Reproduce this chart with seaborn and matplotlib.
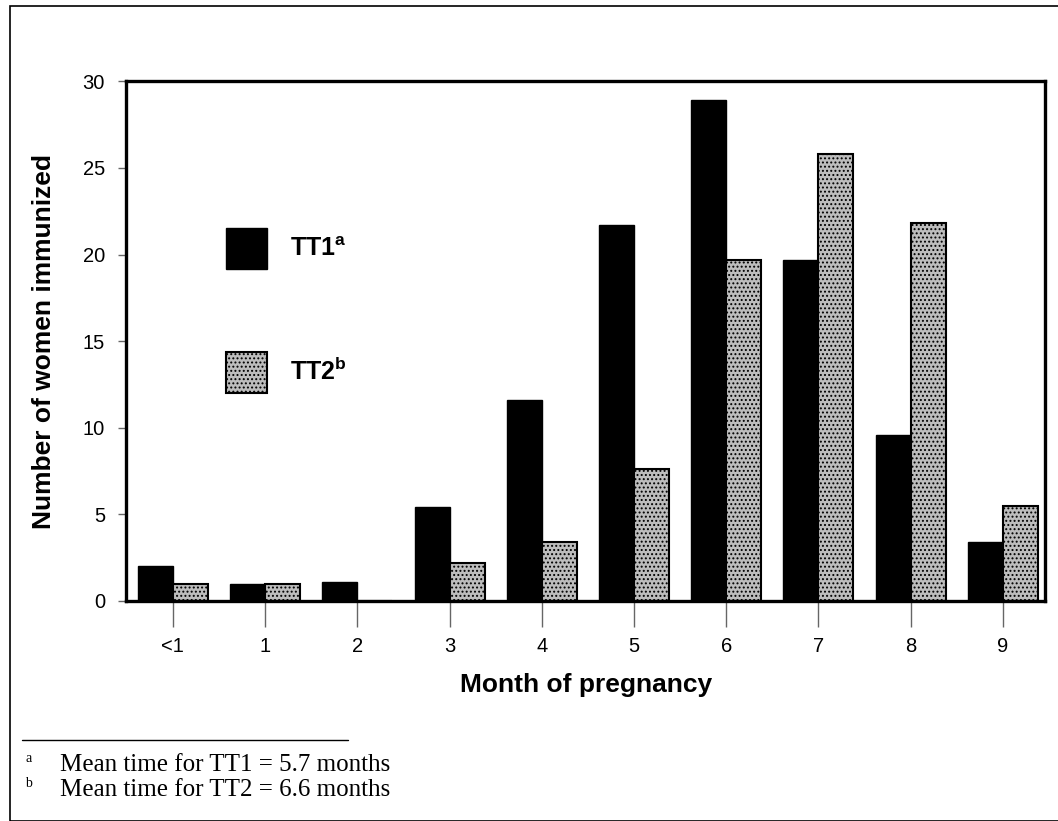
# -*- coding: utf-8 -*-
"""
Bar chart of month of pregnancy at which women received TT1 and TT2.
"""
import seaborn as sns
import pandas as pd
from matplotlib import pyplot as plt
from matplotlib.patches import Patch, Rectangle
from matplotlib.lines import Line2D

#--------------------------Data-----------------------------------------------
months = ['<1', '1', '2', '3', '4', '5', '6', '7', '8', '9']
tt1_counts = [2.0, 1.0, 1.1, 5.4, 11.6, 21.7, 28.9, 19.7, 9.6, 3.4]
tt2_counts = [1.0, 1.0, 0.0, 2.2, 3.4, 7.6, 19.7, 25.8, 21.8, 5.5]
y_ticks = [0, 5, 10, 15, 20, 25, 30]

df = pd.DataFrame({
    'month': months * 2,
    'dose': ['TT1'] * len(months) + ['TT2'] * len(months),
    'count': tt1_counts + tt2_counts,
})

#--------------------------Style----------------------------------------------
sns.set_style('white')
plt.rcParams['font.family'] = ['Liberation Sans', 'DejaVu Sans']
plt.rcParams['text.color'] = 'black'
plt.rcParams['axes.labelcolor'] = 'black'
plt.rcParams['xtick.color'] = 'black'
plt.rcParams['ytick.color'] = 'black'
plt.rcParams['mathtext.fontset'] = 'custom'
plt.rcParams['mathtext.rm'] = 'Liberation Sans'
plt.rcParams['mathtext.bf'] = 'Liberation Sans:bold'
plt.rcParams['hatch.color'] = '#1a1a1a'
plt.rcParams['hatch.linewidth'] = 0.9

gray_fill = '#bdbdbd'

fig = plt.figure(figsize=(10.58, 8.21), dpi=100)
ax = fig.add_axes([0.119, 0.268, 0.869, 0.633])

sns.barplot(data=df, x='month', y='count', hue='dose', order=months,
            palette={'TT1': 'black', 'TT2': gray_fill}, width=0.76,
            saturation=1, legend=False, ax=ax)

for bar in ax.containers[0]:
    bar.set_edgecolor('black')
for bar in ax.containers[1]:
    bar.set_edgecolor('black')
    bar.set_linewidth(1.5)
    bar.set_hatch('....')

ax.set_ylim(0, 30)
ax.set_xlim(-0.51, 9.46)
ax.set_yticks(y_ticks)
ax.set_yticklabels([str(t) for t in y_ticks], fontsize=14.5)
ax.set_xticks(range(len(months)))
ax.set_xticklabels(months, fontsize=14.5)
ax.tick_params(axis='y', left=True, length=6, width=1, color='#666666', pad=9)
ax.tick_params(axis='x', bottom=True, length=19, width=1, color='#666666', pad=7)
for side in ['left', 'right', 'top', 'bottom']:
    ax.spines[side].set_visible(True)
    ax.spines[side].set_color('black')
    ax.spines[side].set_linewidth(2.4)

ax.set_xlabel('Month of pregnancy', fontsize=19, weight='bold', labelpad=12)
ax.set_ylabel('Number of women immunized', fontsize=19, weight='bold', labelpad=19)

#--------------------------Legend---------------------------------------------
handles = [Patch(facecolor='black', edgecolor='black'),
           Patch(facecolor=gray_fill, edgecolor='black', hatch='....', linewidth=1.5)]
labels = [r'$\mathbf{TT1^a}$', r'$\mathbf{TT2^b}$']
fig.legend(handles, labels, loc='upper left', bbox_to_anchor=(226 / 1058, 1 - 228 / 821),
           frameon=False, fontsize=18, handlelength=1.64, handleheight=2.15,
           labelspacing=3.3, handletextpad=0.9, borderpad=0, borderaxespad=0)

#--------------------------Footnotes and border---------------------------------
fig.add_artist(Line2D([22 / 1058, 348 / 1058], [1 - 740 / 821] * 2,
                      color='black', linewidth=1, transform=fig.transFigure))
fig.text(25 / 1058, 1 - 765 / 821, 'a', fontsize=10, family='Liberation Serif', va='bottom')
fig.text(25 / 1058, 1 - 790 / 821, 'b', fontsize=10, family='Liberation Serif', va='bottom')
fig.text(60 / 1058, 1 - 765 / 821, 'Mean time for TT1 = 5.7 months', fontsize=18,
         family='Liberation Serif', va='center')
fig.text(60 / 1058, 1 - 790 / 821, 'Mean time for TT2 = 6.6 months', fontsize=18,
         family='Liberation Serif', va='center')

fig.patches.append(Rectangle((10 / 1058, 0), 1.2, 1 - 6 / 821, transform=fig.transFigure,
                             fill=False, edgecolor='black', linewidth=1.2, figure=fig))

fig.savefig('out.png', dpi=100)
